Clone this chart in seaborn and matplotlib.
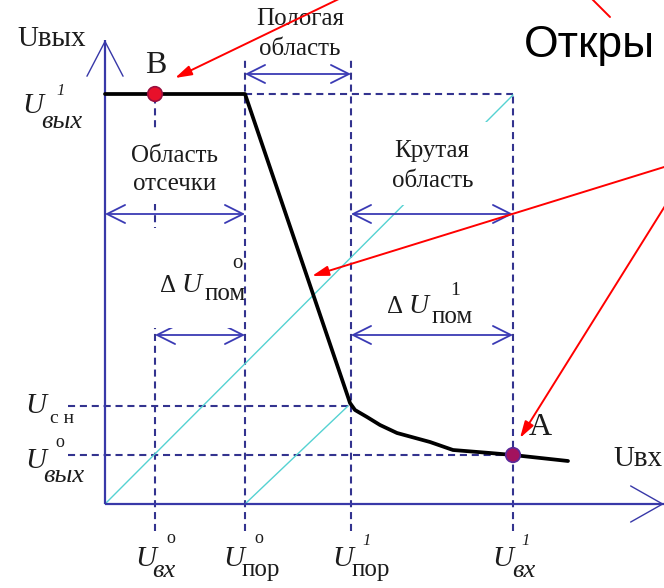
import matplotlib
matplotlib.use("Agg")
import matplotlib.pyplot as plt
from matplotlib.patches import Rectangle
import seaborn as sns

# Positions on the input axis: U_вх^0, U_пор^0, U_пор^1, U_вх^1
x_marks = [50, 140, 246, 408]
# Output levels: U_вых^1, U_сн, U_вых^0
y_levels = [410, 98, 49]

# Transfer characteristic U_вых(U_вх) of the switch
u_in = [0, 140, 243, 245, 250, 262, 275, 292, 325, 348, 385, 408, 463]
u_out = [410, 410, 107, 101, 94, 87, 79, 71, 62, 54, 51, 49, 43]

# Operating points: B (cut-off) and A (saturation)
pt_x = [50, 408]
pt_y = [410, 49]
pt_fill = ["#e8102a", "#a3125e"]
pt_edge = ["#9a1040", "#5a2a9a"]

# Cyan guide lines
guide1_x = [0, 408]
guide1_y = [0, 409]
guide2_x = [140, 243]
guide2_y = [0, 98]

SERIF = "Liberation Serif"
SANS = "Liberation Sans"
INK = "#1c1c1c"
AXIS = "#3838a8"
DASH = "#33338f"
SPAN = "#3a3ab4"
CYAN = "#55d2d2"

sns.set_style("white")
plt.rcParams["font.family"] = [SERIF, "DejaVu Serif"]

fig = plt.figure(figsize=(6.64, 5.88), dpi=100)
ax = fig.add_axes([0, 0, 1, 1])
ax.set_xlim(-105, 559)
ax.set_ylim(-84, 504)
ax.axis("off")

# dashed construction lines
v_top = [y_levels[0], 444, 444, y_levels[0]]
for xm, top in zip(x_marks, v_top):
    ax.plot([xm, xm], [-27, top], color=DASH, lw=1.5, dashes=(3.4, 2.3), zorder=1)
ax.plot([x_marks[1], x_marks[3]], [y_levels[0]] * 2, color=DASH, lw=1.5, dashes=(3.4, 2.3), zorder=1)
ax.plot([-37, x_marks[2]], [y_levels[1]] * 2, color=DASH, lw=1.5, dashes=(3.4, 2.3), zorder=1)
ax.plot([-37, x_marks[3]], [y_levels[2]] * 2, color=DASH, lw=1.5, dashes=(3.4, 2.3), zorder=1)

# cyan guide lines
sns.lineplot(x=guide1_x, y=guide1_y, color=CYAN, lw=1.0, sort=False, ax=ax, zorder=1.5)
sns.lineplot(x=guide2_x, y=guide2_y, color=CYAN, lw=1.0, sort=False, ax=ax, zorder=1.5)

# coordinate axes with open arrowheads
ax.plot([0, 0], [0, 464], color=AXIS, lw=1.6, zorder=2, solid_capstyle="butt")
ax.plot([0, 559], [0, 0], color=AXIS, lw=1.6, zorder=2, solid_capstyle="butt")
ax.annotate("", xy=(0, 464), xytext=(0, 300),
            arrowprops=dict(arrowstyle="->,head_length=2.5,head_width=1.3",
                            color=AXIS, lw=1.0, shrinkA=0, shrinkB=0), zorder=2)
ax.annotate("", xy=(559, 0), xytext=(400, 0),
            arrowprops=dict(arrowstyle="->,head_length=2.3,head_width=1.3",
                            color=AXIS, lw=1.0, shrinkA=0, shrinkB=0), zorder=2)

# double-headed span arrows
def span(x0, x1, y):
    ax.annotate("", xy=(x1, y), xytext=(x0, y),
                arrowprops=dict(arrowstyle="<->,head_length=1.3,head_width=0.65",
                                color=SPAN, lw=1.3, shrinkA=0, shrinkB=0), zorder=2)

span(x_marks[1], x_marks[2], 430)
span(0, x_marks[1], 290)
span(x_marks[2], x_marks[3], 290)
span(x_marks[0], x_marks[1], 169)
span(x_marks[2], x_marks[3], 169)

# transfer characteristic
sns.lineplot(x=u_in, y=u_out, color="black", lw=2.7, sort=False, ax=ax, zorder=3)
sns.scatterplot(x=pt_x, y=pt_y, hue=[0, 1], palette=pt_fill, s=110,
                edgecolor=pt_edge, linewidth=1.2, legend=False, ax=ax, zorder=4)

# overlay in pixel coordinates for labels and call-outs
pa = fig.add_axes([0, 0, 1, 1])
pa.set_xlim(0, 664)
pa.set_ylim(588, 0)
pa.axis("off")
pa.patch.set_alpha(0)


def mask(x0, y0, x1, y1):
    pa.add_patch(Rectangle((x0, y0), x1 - x0, y1 - y0, fc="white", ec="none", zorder=1))


def put(x, y, s, size, style="normal", family=SERIF, ha="left", color=INK):
    pa.text(x, y, s, fontsize=size, fontstyle=style, family=[family, "DejaVu Serif"],
            ha=ha, va="baseline", color=color, zorder=3)


mask(126, 130, 224, 204)
mask(386, 122, 488, 205)
mask(147, 228, 240, 328)

# region captions
put(300, 25, "Пологая", 18, ha="center")
put(300, 55, "область", 18, ha="center")
put(175, 162, "Область", 18, ha="center")
put(175, 190, "отсечки", 18, ha="center")
put(432, 157, "Крутая", 18, ha="center")
put(433, 187, "область", 18, ha="center")

# axis names
put(17, 46, "Uвых", 21)
put(613, 466, "Uвх", 21)

# point names
put(156, 73, "B", 23, ha="center")
put(540, 435, "A", 23, ha="center")

# output level labels
put(22, 113, "U", 21, "italic")
put(56, 95, "1", 12, "italic")
put(41, 128, "вых", 19, "italic")
put(25, 413, "U", 21, "italic")
put(50, 423, "с н", 14)
put(55, 447, "о", 13)
put(25, 468, "U", 21, "italic")
put(43, 482, "вых", 19, "italic")

# input axis labels
put(135, 566, "U", 21, "italic")
put(166, 543, "о", 13)
put(152, 577, "вх", 19, "italic")
put(223, 566, "U", 21, "italic")
put(254, 543, "о", 13)
put(242, 576, "пор", 18)
put(332, 566, "U", 21, "italic")
put(362, 545, "1", 12, "italic")
put(352, 576, "пор", 18)
put(492, 566, "U", 21, "italic")
put(521, 545, "1", 12, "italic")
put(512, 577, "вх", 19, "italic")

# noise margin labels
put(160, 292, "Δ", 18)
put(181, 292, "U", 20, "italic")
put(205, 300, "пом", 18)
put(232, 268, "о", 15)
put(387, 313, "Δ", 18)
put(408, 313, "U", 20, "italic")
put(432, 323, "пом", 18)
put(450, 295, "1", 14)

# slide heading and red call-outs
put(524, 57, "Откры", 32, family=SANS, color="black")
red = dict(color="#ff0000", lw=1.4, shrinkA=0, shrinkB=0)
pa.annotate("", xy=(175, 78), xytext=(345, -4), annotation_clip=False,
            arrowprops=dict(arrowstyle="-|>,head_length=1.0,head_width=0.3", **red))
pa.annotate("", xy=(312, 276), xytext=(690, 159), annotation_clip=False,
            arrowprops=dict(arrowstyle="-|>,head_length=1.0,head_width=0.3", **red))
pa.annotate("", xy=(520, 438), xytext=(680, 182), annotation_clip=False,
            arrowprops=dict(arrowstyle="-|>,head_length=1.0,head_width=0.3", **red))
pa.plot([590, 610], [-3, 17], color="#ff0000", lw=1.4)

fig.savefig("out.png", dpi=100)
